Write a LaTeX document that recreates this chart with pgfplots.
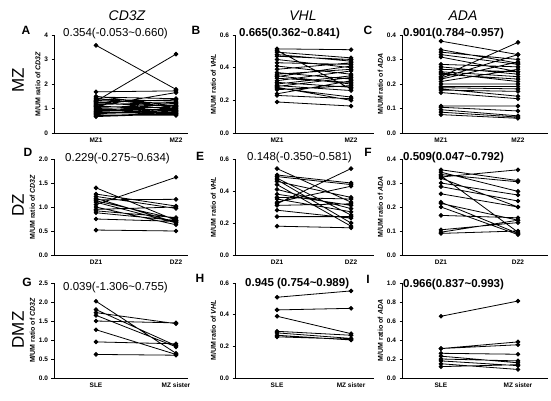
\documentclass[border=0pt]{standalone}
\usepackage{pgfplots}
\pgfplotsset{compat=1.18}
\usepackage{fontspec}
\setmainfont{Liberation Sans}
\pgfplotsset{
  prism/.style={scale only axis, axis lines*=left, axis line style={line width=0.8pt,-},
    ymin=0, xtick={1,2}, tick align=outside, major tick length=2.5pt,
    xtick style={draw=none}, ytick style={line width=0.6pt,black},
    tick label style={font=\fontsize{6.5}{7}\selectfont\bfseries, /pgf/number format/assume math mode=true},
    yticklabel style={/pgf/number format/fixed, /pgf/number format/fixed zerofill, /pgf/number format/precision=1},
    xticklabel style={yshift=1pt},
    ylabel style={font=\fontsize{7}{7}\selectfont\bfseries, yshift=-3pt},
    scaled y ticks=false, unbounded coords=jump, clip=false},
  colA/.style={xmin=0.475, xmax=2.15, width=134pt},
  colB/.style={xmin=0.432, xmax=2.31, width=139pt},
  colC/.style={xmin=0.494, xmax=2.39, width=146pt},
  rowA/.style={height=98pt},
  rowB/.style={height=96pt},
  rowC/.style={height=95pt},
  pair/.style={black, line width=0.8pt, mark=*, mark size=1.9pt, mark options={solid}}
}
\begin{document}
\begin{tikzpicture}
\useasboundingbox (0,0) rectangle (551pt,400pt);
% ---------- Row 1 ----------
\begin{axis}[prism, colA, rowA, at={(54pt,267pt)}, anchor=south west,
  ymax=4, ytick={0,1,2,3,4}, yticklabel style={/pgf/number format/precision=0, /pgf/number format/fixed zerofill=false},
  xticklabels={MZ1,MZ2}, ylabel={M/UM ratio of \textit{CD3Z}}]
\addplot[pair] coordinates {
(1,3.58) (2,1.78) (nan,nan) (1,1.30) (2,3.22) (nan,nan) (1,1.68) (2,1.72) (nan,nan)
(1,1.47) (2,1.40) (nan,nan) (1,1.42) (2,1.05) (nan,nan) (1,1.38) (2,1.30) (nan,nan)
(1,1.33) (2,1.20) (nan,nan) (1,1.28) (2,0.95) (nan,nan) (1,1.24) (2,1.36) (nan,nan)
(1,1.20) (2,1.12) (nan,nan) (1,1.16) (2,1.25) (nan,nan) (1,1.12) (2,0.88) (nan,nan)
(1,1.08) (2,1.02) (nan,nan) (1,1.04) (2,1.15) (nan,nan) (1,1.00) (2,0.92) (nan,nan)
(1,0.97) (2,0.80) (nan,nan) (1,0.94) (2,1.08) (nan,nan) (1,0.90) (2,0.98) (nan,nan)
(1,0.87) (2,0.76) (nan,nan) (1,0.84) (2,0.90) (nan,nan) (1,0.80) (2,0.85) (nan,nan)
(1,0.77) (2,1.00) (nan,nan) (1,0.74) (2,0.72) (nan,nan) (1,0.70) (2,0.82) (nan,nan)
(1,0.67) (2,0.78) (nan,nan) (1,1.50) (2,1.10) (nan,nan) (1,1.10) (2,1.65)
};
\end{axis}
\begin{axis}[prism, colB, rowA, at={(235pt,267pt)}, anchor=south west,
  ymax=0.6, ytick={0,0.2,0.4,0.6},
  xticklabels={MZ1,MZ2}, ylabel={M/UM ratio of \textit{VHL}}]
\addplot[pair] coordinates {
(1,0.515) (2,0.51) (nan,nan) (1,0.505) (2,0.27) (nan,nan) (1,0.495) (2,0.46) (nan,nan)
(1,0.48) (2,0.44) (nan,nan) (1,0.47) (2,0.45) (nan,nan) (1,0.45) (2,0.40) (nan,nan)
(1,0.43) (2,0.42) (nan,nan) (1,0.41) (2,0.36) (nan,nan) (1,0.39) (2,0.43) (nan,nan)
(1,0.37) (2,0.33) (nan,nan) (1,0.36) (2,0.39) (nan,nan) (1,0.35) (2,0.30) (nan,nan)
(1,0.345) (2,0.41) (nan,nan) (1,0.335) (2,0.31) (nan,nan) (1,0.32) (2,0.38) (nan,nan)
(1,0.31) (2,0.28) (nan,nan) (1,0.30) (2,0.35) (nan,nan) (1,0.29) (2,0.26) (nan,nan)
(1,0.285) (2,0.34) (nan,nan) (1,0.275) (2,0.22) (nan,nan) (1,0.265) (2,0.29) (nan,nan)
(1,0.24) (2,0.32) (nan,nan) (1,0.23) (2,0.21) (nan,nan) (1,0.19) (2,0.165) (nan,nan)
(1,0.28) (2,0.20)
};
\end{axis}
\begin{axis}[prism, colC, rowA, at={(402pt,267pt)}, anchor=south west,
  ymax=0.4, ytick={0,0.1,0.2,0.3,0.4},
  xticklabels={MZ1,MZ2}, ylabel={M/UM ratio of \textit{ADA}}]
\addplot[pair] coordinates {
(1,0.375) (2,0.32) (nan,nan) (1,0.34) (2,0.285) (nan,nan) (1,0.33) (2,0.30) (nan,nan)
(1,0.32) (2,0.28) (nan,nan) (1,0.31) (2,0.25) (nan,nan) (1,0.28) (2,0.27) (nan,nan)
(1,0.26) (2,0.25) (nan,nan) (1,0.25) (2,0.23) (nan,nan) (1,0.24) (2,0.22) (nan,nan)
(1,0.23) (2,0.37) (nan,nan) (1,0.225) (2,0.32) (nan,nan) (1,0.22) (2,0.29) (nan,nan)
(1,0.21) (2,0.26) (nan,nan) (1,0.20) (2,0.20) (nan,nan) (1,0.19) (2,0.19) (nan,nan)
(1,0.185) (2,0.18) (nan,nan) (1,0.18) (2,0.15) (nan,nan) (1,0.175) (2,0.17) (nan,nan)
(1,0.165) (2,0.14) (nan,nan) (1,0.11) (2,0.11) (nan,nan) (1,0.105) (2,0.09) (nan,nan)
(1,0.095) (2,0.07) (nan,nan) (1,0.085) (2,0.065) (nan,nan) (1,0.075) (2,0.06) (nan,nan)
(1,0.27) (2,0.24) (nan,nan) (1,0.245) (2,0.21)
};
\end{axis}
% ---------- Row 2 ----------
\begin{axis}[prism, colA, rowB, at={(54pt,145pt)}, anchor=south west,
  ymax=2, ytick={0,0.5,1,1.5,2},
  xticklabels={DZ1,DZ2}, ylabel={M/UM ratio of \textit{CD3Z}}]
\addplot[pair] coordinates {
(1,1.40) (2,0.72) (nan,nan) (1,1.27) (2,1.02) (nan,nan) (1,1.22) (2,0.97) (nan,nan)
(1,1.15) (2,1.16) (nan,nan) (1,1.13) (2,0.75) (nan,nan) (1,1.10) (2,0.67) (nan,nan)
(1,1.05) (2,1.62) (nan,nan) (1,1.00) (2,0.63) (nan,nan) (1,0.95) (2,1.00) (nan,nan)
(1,0.92) (2,0.78) (nan,nan) (1,0.88) (2,0.72) (nan,nan) (1,0.75) (2,0.70) (nan,nan)
(1,0.52) (2,0.50) (nan,nan) (1,1.18) (2,0.68)
};
\end{axis}
\begin{axis}[prism, colB, rowB, at={(235pt,145pt)}, anchor=south west,
  ymax=0.6, ytick={0,0.2,0.4,0.6},
  xticklabels={DZ1,DZ2}, ylabel={M/UM ratio of \textit{VHL}}]
\addplot[pair] coordinates {
(1,0.54) (2,0.33) (nan,nan) (1,0.50) (2,0.45) (nan,nan) (1,0.49) (2,0.44) (nan,nan)
(1,0.48) (2,0.25) (nan,nan) (1,0.47) (2,0.20) (nan,nan) (1,0.46) (2,0.36) (nan,nan)
(1,0.44) (2,0.18) (nan,nan) (1,0.41) (2,0.29) (nan,nan) (1,0.38) (2,0.31) (nan,nan)
(1,0.36) (2,0.35) (nan,nan) (1,0.35) (2,0.27) (nan,nan) (1,0.33) (2,0.43) (nan,nan)
(1,0.32) (2,0.54) (nan,nan) (1,0.31) (2,0.32) (nan,nan) (1,0.28) (2,0.23) (nan,nan)
(1,0.24) (2,0.24) (nan,nan) (1,0.18) (2,0.17)
};
\end{axis}
\begin{axis}[prism, colC, rowB, at={(402pt,145pt)}, anchor=south west,
  ymax=0.4, ytick={0,0.1,0.2,0.3,0.4},
  xticklabels={DZ1,DZ2}, ylabel={M/UM ratio of \textit{ADA}}]
\addplot[pair] coordinates {
(1,0.355) (2,0.31) (nan,nan) (1,0.345) (2,0.265) (nan,nan) (1,0.335) (2,0.305) (nan,nan)
(1,0.33) (2,0.095) (nan,nan) (1,0.325) (2,0.355) (nan,nan) (1,0.30) (2,0.25) (nan,nan)
(1,0.285) (2,0.225) (nan,nan) (1,0.255) (2,0.20) (nan,nan) (1,0.22) (2,0.09) (nan,nan)
(1,0.215) (2,0.145) (nan,nan) (1,0.20) (2,0.085) (nan,nan) (1,0.165) (2,0.155) (nan,nan)
(1,0.105) (2,0.135) (nan,nan) (1,0.095) (2,0.145) (nan,nan) (1,0.09) (2,0.10) (nan,nan)
(1,0.32) (2,0.20)
};
\end{axis}
% ---------- Row 3 ----------
\begin{axis}[prism, colA, rowC, at={(54pt,22pt)}, anchor=south west,
  ymax=2.5, ytick={0,0.5,1,1.5,2,2.5},
  xticklabels={SLE,MZ sister}, ylabel={M/UM ratio of \textit{CD3Z}}]
\addplot[pair] coordinates {
(1,2.02) (2,0.65) (nan,nan) (1,1.80) (2,0.85) (nan,nan) (1,1.72) (2,1.43) (nan,nan)
(1,1.65) (2,0.82) (nan,nan) (1,1.50) (2,1.45) (nan,nan) (1,1.27) (2,0.62) (nan,nan)
(1,0.95) (2,0.90) (nan,nan) (1,0.62) (2,0.60)
};
\end{axis}
\begin{axis}[prism, colB, rowC, at={(235pt,22pt)}, anchor=south west,
  ymax=0.6, ytick={0,0.2,0.4,0.6},
  xticklabels={SLE,MZ sister}, ylabel={M/UM ratio of \textit{VHL}}]
\addplot[pair] coordinates {
(1,0.51) (2,0.55) (nan,nan) (1,0.43) (2,0.44) (nan,nan) (1,0.39) (2,0.28) (nan,nan)
(1,0.295) (2,0.27) (nan,nan) (1,0.285) (2,0.25) (nan,nan) (1,0.27) (2,0.24) (nan,nan)
(1,0.26) (2,0.245)
};
\end{axis}
\begin{axis}[prism, colC, rowC, at={(402pt,22pt)}, anchor=south west,
  ymax=1.0, ytick={0,0.2,0.4,0.6,0.8,1.0},
  xticklabels={SLE,MZ sister}, ylabel={M/UM ratio of \textit{ADA}}]
\addplot[pair] coordinates {
(1,0.65) (2,0.81) (nan,nan) (1,0.31) (2,0.38) (nan,nan) (1,0.31) (2,0.35) (nan,nan)
(1,0.26) (2,0.25) (nan,nan) (1,0.23) (2,0.16) (nan,nan) (1,0.20) (2,0.18) (nan,nan)
(1,0.18) (2,0.13) (nan,nan) (1,0.15) (2,0.09) (nan,nan) (1,0.12) (2,0.14)
};
\end{axis}
% ---------- Text ----------
\begin{scope}[every node/.style={inner sep=0pt}]
\node[font=\fontsize{14}{14}\selectfont\itshape] at (127pt,384pt) {CD3Z};
\node[font=\fontsize{14}{14}\selectfont\itshape] at (303pt,384pt) {VHL};
\node[font=\fontsize{14}{14}\selectfont\itshape] at (463pt,384pt) {ADA};
\node[rotate=90, font=\fontsize{17}{17}\selectfont] at (18pt,320pt) {MZ};
\node[rotate=90, font=\fontsize{17}{17}\selectfont] at (18pt,195pt) {DZ};
\node[rotate=90, font=\fontsize{17}{17}\selectfont] at (18pt,70pt) {DMZ};
\foreach \l/\x/\y in {A/26/370, B/196/370, C/368/370, D/28/248, E/200/244, F/368/248, G/27/118, H/200/122, I/368/121}
  \node[font=\fontsize{12}{12}\selectfont\bfseries] at (\x pt,\y pt) {\l};
\node[anchor=west, font=\fontsize{11.5}{11.5}\selectfont] at (63pt,366pt) {0.354(-0.053\textasciitilde0.660)};
\node[anchor=west, font=\fontsize{11.5}{11.5}\selectfont\bfseries] at (239pt,366pt) {0.665(0.362\textasciitilde0.841)};
\node[anchor=west, font=\fontsize{11.5}{11.5}\selectfont\bfseries] at (403pt,366pt) {0.901(0.784\textasciitilde0.957)};
\node[anchor=west, font=\fontsize{11.5}{11.5}\selectfont] at (65pt,241pt) {0.229(-0.275\textasciitilde0.634)};
\node[anchor=west, font=\fontsize{11.5}{11.5}\selectfont] at (247pt,242pt) {0.148(-0.350\textasciitilde0.581)};
\node[anchor=west, font=\fontsize{11.5}{11.5}\selectfont\bfseries] at (403pt,242pt) {0.509(0.047\textasciitilde0.792)};
\node[anchor=west, font=\fontsize{11.5}{11.5}\selectfont] at (63pt,112pt) {0.039(-1.306\textasciitilde0.755)};
\node[anchor=west, font=\fontsize{11.5}{11.5}\selectfont\bfseries] at (245pt,116pt) {0.945 (0.754\textasciitilde0.989)};
\node[anchor=west, font=\fontsize{11.5}{11.5}\selectfont\bfseries] at (403pt,115pt) {0.966(0.837\textasciitilde0.993)};
\end{scope}
\end{tikzpicture}
\end{document}
